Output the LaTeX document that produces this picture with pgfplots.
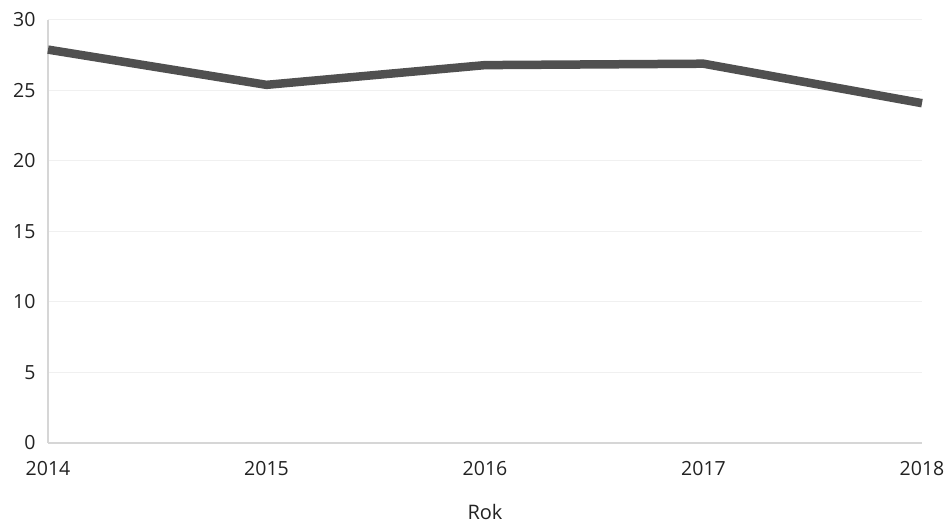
\documentclass[border=0pt]{standalone}
\usepackage{pgfplots}
\pgfplotsset{compat=1.18}
\usepackage{fontspec}
\setmainfont{Open Sans}
\definecolor{linegray}{HTML}{505050}
\definecolor{gridgray}{HTML}{F0F0F0}
\definecolor{axisgray}{HTML}{D6D6D6}
\definecolor{textgray}{HTML}{222222}
\begin{document}
\begin{tikzpicture}[x=1pt,y=1pt]
\path[use as bounding box] (-48,-83) rectangle (899,443);
\begin{axis}[
  at={(0,0)}, anchor=south west,
  scale only axis,
  width=874pt, height=423pt,
  xmin=2014, xmax=2018,
  ymin=0, ymax=30,
  xtick={2014,2015,2016,2017,2018},
  ytick={0,5,10,15,20,25,30},
  xticklabel style={/pgf/number format/1000 sep={}},
  /pgf/number format/assume math mode=true,
  tick label style={font=\fontsize{19.5}{22}\selectfont, text=textgray},
  yticklabel style={anchor=east, xshift=-9pt},
  xticklabel style={anchor=north, yshift=-15pt},
  major tick length=0pt,
  ymajorgrids,
  grid style={gridgray, line width=1pt},
  axis x line*=bottom,
  axis y line*=left,
  x axis line style={axisgray, line width=1.5pt},
  y axis line style={axisgray, line width=1.5pt},
  xlabel={Rok},
  xlabel style={font=\fontsize{20}{24}\selectfont, text=textgray, yshift=-22pt},
  clip=false,
]
\addplot[linegray, line width=8.5pt, line join=miter, mark=none] coordinates {
  (2014,27.9) (2015,25.4) (2016,26.8) (2017,26.9) (2018,24.1)
};
\end{axis}
\end{tikzpicture}
\end{document}
